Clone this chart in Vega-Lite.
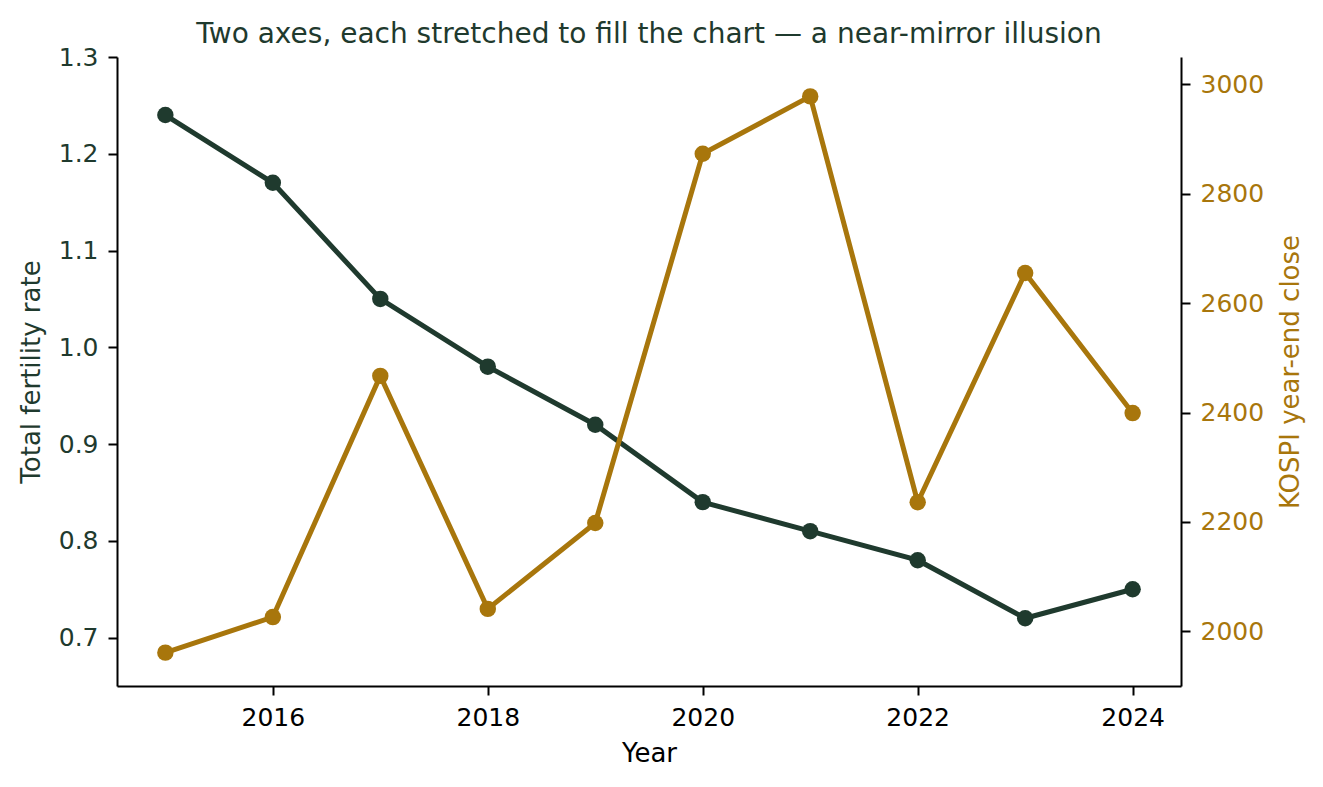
{
  "$schema": "https://vega.github.io/schema/vega-lite/v6.json",
  "autosize": "none",
  "padding": {"left": 117, "top": 57, "right": 142, "bottom": 101},
  "width": 1064,
  "height": 629,
  "background": "#ffffff",
  "title": {
    "text": "Two axes, each stretched to fill the chart — a near-mirror illusion",
    "font": "DejaVu Sans",
    "fontSize": 28,
    "fontWeight": "normal",
    "color": "#1f3a2e",
    "anchor": "middle",
    "offset": -4
  },
  "data": {
    "values": [
      {"year": 2015, "tfr": 1.24, "kospi": 1961},
      {"year": 2016, "tfr": 1.17, "kospi": 2026},
      {"year": 2017, "tfr": 1.05, "kospi": 2467},
      {"year": 2018, "tfr": 0.98, "kospi": 2041},
      {"year": 2019, "tfr": 0.92, "kospi": 2198},
      {"year": 2020, "tfr": 0.84, "kospi": 2873},
      {"year": 2021, "tfr": 0.81, "kospi": 2978},
      {"year": 2022, "tfr": 0.78, "kospi": 2236},
      {"year": 2023, "tfr": 0.72, "kospi": 2655},
      {"year": 2024, "tfr": 0.75, "kospi": 2399}
    ]
  },
  "encoding": {
    "x": {
      "field": "year",
      "type": "quantitative",
      "title": "Year",
      "scale": {"domain": [2014.55, 2024.45], "nice": false, "zero": false},
      "axis": {"values": [2016, 2018, 2020, 2022, 2024], "format": "d", "labelColor": "#000000", "titleColor": "#000000", "labelPadding": 10, "titlePadding": 10}
    }
  },
  "layer": [
    {
      "mark": {"type": "line", "color": "#1f3a2e", "strokeWidth": 5, "point": {"filled": true, "size": 270, "color": "#1f3a2e", "opacity": 1}},
      "encoding": {
        "y": {
          "field": "tfr",
          "type": "quantitative",
          "title": "Total fertility rate",
          "scale": {"domain": [0.65, 1.3], "nice": false, "zero": false},
          "axis": {"orient": "left", "values": [0.7, 0.8, 0.9, 1.0, 1.1, 1.2, 1.3], "format": ".1f", "labelColor": "#1f3a2e", "titleColor": "#1f3a2e", "labelPadding": 10, "titlePadding": 14}
        }
      }
    },
    {
      "mark": {"type": "line", "color": "#a8760c", "strokeWidth": 5, "point": {"filled": true, "size": 270, "color": "#a8760c", "opacity": 1}},
      "encoding": {
        "y": {
          "field": "kospi",
          "type": "quantitative",
          "title": "KOSPI year-end close",
          "scale": {"domain": [1900, 3050], "nice": false, "zero": false},
          "axis": {"orient": "right", "values": [2000, 2200, 2400, 2600, 2800, 3000], "format": "d", "labelColor": "#a8760c", "titleColor": "#a8760c", "titleAngle": 270, "titleX": 109, "titleY": 314.5, "titleAlign": "center", "titleBaseline": "middle", "labelPadding": 10}
        }
      }
    }
  ],
  "resolve": {"scale": {"y": "independent"}},
  "config": {
    "view": {"stroke": null},
    "axis": {
      "grid": false,
      "domainColor": "#000000",
      "domainWidth": 2,
      "tickColor": "#000000",
      "tickWidth": 2,
      "tickSize": 9,
      "labelFont": "DejaVu Sans",
      "labelFontSize": 25,
      "titleFont": "DejaVu Sans",
      "titleFontSize": 26,
      "titleFontWeight": "normal"
    }
  }
}
